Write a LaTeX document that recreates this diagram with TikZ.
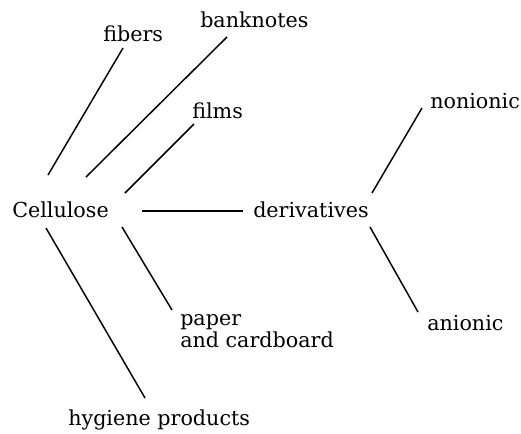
\documentclass[tikz,border=0pt]{standalone}
\usepackage{fontspec}
\setmainfont{DejaVu Serif}

\begin{document}
\begin{tikzpicture}[x=0.75pt,y=-0.75pt,
    lbl/.style={anchor=base west,inner sep=0pt,font=\fontsize{15.5}{15}\selectfont},
    link/.style={line width=1.1pt}]
    \useasboundingbox (0,0) rectangle (521,433);
    % labels
    \node[lbl] (cell) at (12,217) {Cellulose};
    \node[lbl] (fib) at (103,41) {fibers};
    \node[lbl] (bank) at (200,27) {banknotes};
    \node[lbl] (film) at (192,118) {films};
    \node[lbl] (deriv) at (253,217) {derivatives};
    \node[lbl] (non) at (430,108) {nonionic};
    \node[lbl] (ani) at (427,330) {anionic};
    \node[lbl,align=left] (pap) at (180,347) {paper\\and cardboard};
    \node[lbl] (hyg) at (68,425) {hygiene products};
    % connectors
    \draw[link] ([shift={(36,-42)}]cell.base west) -- ([shift={(20,7)}]fib.base west);
    \draw[link] ([shift={(74,-40)}]cell.base west) -- ([shift={(27,10)}]bank.base west);
    \draw[link] ([shift={(113,-24)}]cell.base west) -- ([shift={(2,6)}]film.base west);
    \draw[link] ([shift={(130,-6)}]cell.base west) -- ([shift={(-10,-6)}]deriv.base west);
    \draw[link] ([shift={(110,10)}]cell.base west) -- ([shift={(-8,-37)}]pap.base west);
    \draw[link] ([shift={(34,11)}]cell.base west) -- ([shift={(77,-27)}]hyg.base west);
    \draw[link] ([shift={(119,-24)}]deriv.base west) -- ([shift={(-8,0)}]non.base west);
    \draw[link] ([shift={(117,10)}]deriv.base west) -- ([shift={(-9,-18)}]ani.base west);
\end{tikzpicture}
\end{document}
